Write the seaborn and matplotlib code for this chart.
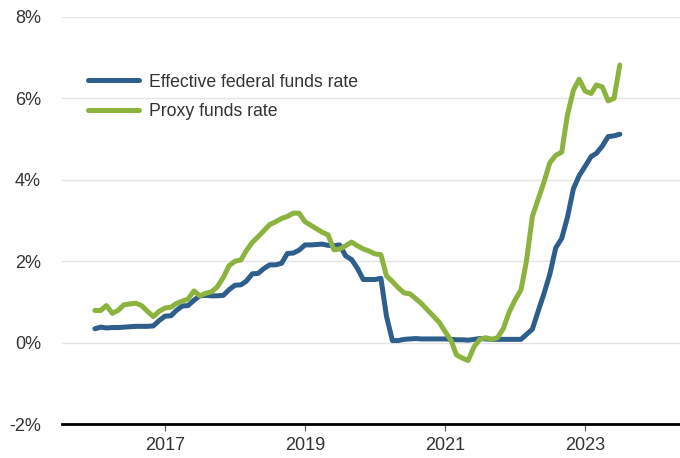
import matplotlib
matplotlib.use("Agg")
import matplotlib.pyplot as plt
import seaborn as sns
import pandas as pd
import numpy as np

dates = pd.date_range("2016-01-01", "2023-07-01", freq="MS")

effr = [0.34, 0.38, 0.36, 0.37, 0.37, 0.38, 0.39, 0.40, 0.40, 0.40, 0.41, 0.54,
        0.65, 0.66, 0.79, 0.90, 0.91, 1.04, 1.15, 1.16, 1.15, 1.15, 1.16, 1.30,
        1.41, 1.42, 1.51, 1.69, 1.70, 1.82, 1.91, 1.91, 1.95, 2.19, 2.20, 2.27,
        2.40, 2.40, 2.41, 2.42, 2.39, 2.38, 2.40, 2.13, 2.04, 1.83, 1.55, 1.55,
        1.55, 1.58, 0.65, 0.05, 0.05, 0.08, 0.09, 0.10, 0.09, 0.09, 0.09, 0.09,
        0.09, 0.08, 0.07, 0.07, 0.06, 0.08, 0.10, 0.09, 0.08, 0.08, 0.08, 0.08,
        0.08, 0.08, 0.20, 0.33, 0.77, 1.21, 1.68, 2.33, 2.56, 3.08, 3.78, 4.10,
        4.33, 4.57, 4.65, 4.83, 5.06, 5.08, 5.12]

proxy = [0.79, 0.79, 0.91, 0.72, 0.79, 0.93, 0.95, 0.97, 0.91, 0.77, 0.64, 0.77,
         0.85, 0.87, 0.96, 1.02, 1.07, 1.27, 1.15, 1.21, 1.25, 1.37, 1.60, 1.89,
         2.00, 2.03, 2.26, 2.46, 2.60, 2.75, 2.90, 2.97, 3.05, 3.10, 3.18, 3.18,
         2.97, 2.88, 2.80, 2.71, 2.65, 2.28, 2.30, 2.38, 2.47, 2.38, 2.30, 2.25,
         2.18, 2.16, 1.64, 1.50, 1.35, 1.22, 1.20, 1.08, 0.95, 0.80, 0.65, 0.50,
         0.27, 0.05, -0.30, -0.38, -0.44, -0.10, 0.08, 0.12, 0.08, 0.12, 0.35, 0.75,
         1.05, 1.30, 2.00, 3.10, 3.52, 3.95, 4.42, 4.60, 4.68, 5.60, 6.20, 6.47,
         6.18, 6.12, 6.33, 6.28, 5.94, 6.00, 6.82]

series_names = ["Effective federal funds rate", "Proxy funds rate"]
colors = ["#2e5e8c", "#8bb33d"]
yticks = [-2, 0, 2, 4, 6, 8]
xtick_years = [2017, 2019, 2021, 2023]

df = pd.DataFrame({"date": list(dates) * 2,
                   "value": effr + proxy,
                   "series": [series_names[0]] * len(effr) + [series_names[1]] * len(proxy)})

sns.set_style("white")
plt.rcParams["font.family"] = ["Liberation Sans", "DejaVu Sans"]

fig = plt.figure(figsize=(6.8, 4.58), dpi=100)
ax = fig.add_axes([0.091, 0.0742, 0.909, 0.8887])

sns.lineplot(data=df, x="date", y="value", hue="series", palette=colors,
             linewidth=3.6, ax=ax, legend=True)

ax.set_ylim(-2, 8)
ax.set_xlim(pd.Timestamp("2015-07-13"), pd.Timestamp("2024-05-10"))
ax.set_yticks(yticks)
ax.set_yticklabels([f"{v}%" for v in yticks])
ax.set_xticks([pd.Timestamp(f"{y}-01-01") for y in xtick_years])
ax.set_xticklabels([str(y) for y in xtick_years])
ax.grid(axis="y", color="#e3e3e3", linewidth=1)
ax.set_axisbelow(True)
for s in ["top", "right", "left"]:
    ax.spines[s].set_visible(False)
ax.spines["bottom"].set_color("black")
ax.spines["bottom"].set_linewidth(2)
ax.tick_params(axis="y", length=0, labelsize=13, colors="#333333", pad=15)
ax.tick_params(axis="x", length=5, width=0.8, color="#555555", direction="out",
               labelsize=13, labelcolor="#333333", pad=4, bottom=True)
ax.set_xlabel("")
ax.set_ylabel("")

leg = ax.legend(title=None, frameon=False, loc="upper left",
                bbox_to_anchor=(0.017, 0.9), fontsize=12.7,
                handlelength=2.9, handletextpad=0.55, labelspacing=0.7)
for line in leg.get_lines():
    line.set_linewidth(3.6)
for t in leg.get_texts():
    t.set_color("#333333")

fig.savefig("out.png", dpi=100)
